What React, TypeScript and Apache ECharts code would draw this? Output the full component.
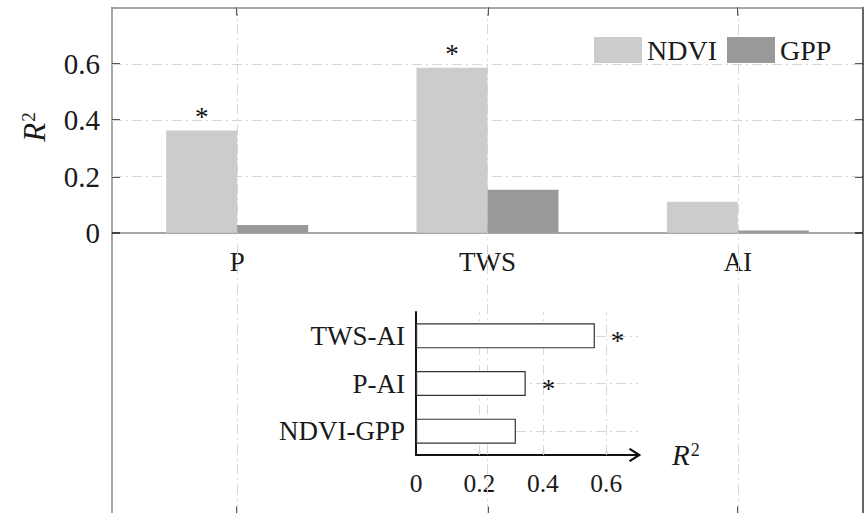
import React, { useEffect, useRef } from "react";
import * as echarts from "echarts";

const categories = ["P", "TWS", "AI"];
const ndviValues = [0.363, 0.586, 0.11];
const gppValues = [0.028, 0.153, 0.008];
const ndviSignificant = [true, true, false];

const yTicks = [0, 0.2, 0.4, 0.6];

const insetCategories = ["NDVI-GPP", "P-AI", "TWS-AI"];
const insetValues = [0.315, 0.346, 0.564];
const insetSignificant = [false, true, true];
const insetTickLabels = [0, 0.2, 0.4, 0.6];
const insetTicks = [0.2, 0.4, 0.6];

const FONT = "Liberation Serif";
const TEXT = "#1a1a1a";
const GRID_COLOR = "#d6d6d6";
const DASHDOT = [10, 4, 2, 4];
const CHEVRON = "path://M7,0 L14,11 L12.4,12.6 L7,4.2 L1.6,12.6 L0,11 Z";

export default function App() {
  const ref = useRef<HTMLDivElement>(null);

  useEffect(() => {
    if (!ref.current) return;
    const chart = echarts.init(ref.current, undefined, { renderer: "svg" });

    const fmt = (v: number) => String(Math.round(v * 10) / 10);
    const gridLineStyle = { color: GRID_COLOR, type: DASHDOT, width: 1 };

    const option: any = {
      animation: false,
      backgroundColor: "#ffffff",
      textStyle: { fontFamily: FONT },
      legend: {
        data: ["NDVI", "GPP"],
        left: 594,
        top: 36,
        itemWidth: 48,
        itemHeight: 26,
        itemGap: 10,
        icon: "rect",
        padding: 0,
        textStyle: { fontFamily: FONT, fontSize: 28, color: TEXT, padding: [0, 0, 0, 0] },
      },
      grid: [
        { left: 112, top: 7.5, right: 1, bottom: -1.5, containLabel: false, outerBoundsMode: "none" },
        { left: 416, top: 312, width: 222, height: 143, containLabel: false, outerBoundsMode: "none" },
        { left: 112, top: 7.5, right: 1, height: 225.1, containLabel: false, outerBoundsMode: "none" },
      ],
      xAxis: [
        {
          type: "category",
          gridIndex: 0,
          data: categories,
          position: "bottom",
          axisLine: { onZero: true, lineStyle: { color: "#8a8a8a", width: 1.5 } },
          axisTick: { show: false },
          axisLabel: { show: false },
          splitLine: { show: false },
        },
        {
          type: "category",
          gridIndex: 0,
          data: categories,
          position: "top",
          axisLine: { show: true, onZero: false, lineStyle: { color: "#8a8a8a", width: 1.5 } },
          axisTick: { show: true, inside: true, alignWithLabel: true, length: 8, lineStyle: { color: "#222", width: 1.5 } },
          axisLabel: { show: false },
          splitLine: { show: false },
        },
        {
          type: "category",
          gridIndex: 0,
          data: categories,
          position: "bottom",
          axisLine: { show: false, onZero: false },
          axisTick: { show: true, inside: true, alignWithLabel: true, length: 8, lineStyle: { color: "#222", width: 1.5 } },
          axisLabel: { show: false },
          splitLine: { show: false },
        },
        {
          type: "value",
          gridIndex: 1,
          min: 0,
          max: 0.7,
          position: "bottom",
          axisLine: {
            show: true,
            onZero: false,
            symbol: ["none", CHEVRON],
            symbolSize: [14, 13],
            symbolOffset: [0, -3],
            lineStyle: { color: "#111", width: 2 },
          },
          axisTick: { show: true, inside: true, length: 4, customValues: insetTicks, lineStyle: { color: "#222", width: 1.2 } },
          axisLabel: { customValues: insetTickLabels, fontFamily: FONT, fontSize: 25.5, color: TEXT, margin: 15, formatter: fmt },
          splitLine: { show: false },
          name: "{i|R}{s|2}",
          nameLocation: "end",
          nameGap: 34,
          nameTextStyle: {
            fontFamily: FONT,
            color: TEXT,
            rich: {
              i: { fontFamily: FONT, fontSize: 29, fontStyle: "italic", color: TEXT },
              s: { fontFamily: FONT, fontSize: 18, color: TEXT, verticalAlign: "top", padding: [0, 0, 0, 1] },
            },
          },
        },
        {
          type: "category",
          gridIndex: 2,
          data: categories,
          position: "bottom",
          axisLine: { show: false, onZero: false },
          axisTick: { show: false },
          axisLabel: { fontFamily: FONT, fontSize: 27, color: TEXT, margin: 16 },
          splitLine: { show: false },
        },
      ],
      yAxis: [
        {
          type: "value",
          gridIndex: 0,
          min: -1,
          max: 0.8,
          position: "left",
          axisLine: { show: true, onZero: false, lineStyle: { color: "#8a8a8a", width: 1.5 } },
          axisTick: { show: true, inside: true, length: 8, customValues: yTicks, lineStyle: { color: "#222", width: 1.5 } },
          axisLabel: { customValues: yTicks, fontFamily: FONT, fontSize: 29, color: TEXT, margin: 12, formatter: fmt },
          splitLine: { show: false },
        },
        {
          type: "value",
          gridIndex: 0,
          min: -1,
          max: 0.8,
          position: "right",
          axisLine: { show: true, onZero: false, lineStyle: { color: "#333", width: 1.5 } },
          axisTick: { show: true, inside: true, length: 8, customValues: yTicks, lineStyle: { color: "#222", width: 1.5 } },
          axisLabel: { show: false },
          splitLine: { show: false },
        },
        {
          type: "category",
          gridIndex: 1,
          data: insetCategories,
          position: "left",
          axisLine: { show: true, onZero: false, lineStyle: { color: "#111", width: 2 } },
          axisTick: { show: true, inside: true, alignWithLabel: true, length: 3, lineStyle: { color: "#222", width: 1.2 } },
          axisLabel: { fontFamily: FONT, fontSize: 27, color: TEXT, margin: 11 },
          splitLine: { show: false },
        },
        {
          type: "value",
          gridIndex: 2,
          min: 0,
          max: 0.8,
          show: false,
        },
      ],
      series: [
        {
          name: "gridlines",
          type: "line",
          xAxisIndex: 0,
          yAxisIndex: 0,
          data: [],
          showSymbol: false,
          silent: true,
          markLine: {
            silent: true,
            z: 1,
            symbol: ["none", "none"],
            label: { show: false },
            lineStyle: gridLineStyle,
            data: [
              ...categories.map((c) => ({ xAxis: c })),
              ...yTicks.filter((v) => v > 0).map((v) => ({ yAxis: v })),
            ],
          },
        },
        {
          name: "NDVI",
          type: "bar",
          xAxisIndex: 0,
          yAxisIndex: 0,
          data: ndviValues,
          barWidth: 71,
          barGap: "0%",
          itemStyle: { color: "#cccccc" },
          label: {
            show: true,
            position: "top",
            distance: 0,
            fontFamily: FONT,
            fontSize: 27,
            color: "#111111",
            formatter: (p: any) => (ndviSignificant[p.dataIndex] ? "*" : ""),
          },
        },
        {
          name: "GPP",
          type: "bar",
          xAxisIndex: 0,
          yAxisIndex: 0,
          data: gppValues,
          barWidth: 71,
          barGap: "0%",
          itemStyle: { color: "#999999" },
        },
        {
          name: "R2",
          type: "bar",
          xAxisIndex: 3,
          yAxisIndex: 2,
          data: insetValues,
          barWidth: 25,
          itemStyle: { color: "#ffffff", borderColor: "#333", borderWidth: 1.2 },
          label: {
            show: true,
            position: "right",
            distance: 16,
            offset: [0, 5],
            fontFamily: FONT,
            fontSize: 27,
            color: "#111111",
            formatter: (p: any) => (insetSignificant[p.dataIndex] ? "*" : ""),
          },
          markLine: {
            silent: true,
            z: 1,
            symbol: ["none", "none"],
            label: { show: false },
            lineStyle: gridLineStyle,
            data: [
              ...insetTicks.map((v) => ({ xAxis: v })),
              ...insetCategories.map((c) => ({ yAxis: c })),
            ],
          },
        },
      ],
      graphic: [
        {
          type: "text",
          x: 34,
          y: 127,
          rotation: Math.PI / 2,
          style: {
            text: "{i|R}{s|2}",
            align: "center",
            verticalAlign: "middle",
            fill: TEXT,
            font: `30px ${FONT}`,
            rich: {
              i: { fontFamily: FONT, fontSize: 31, fontStyle: "italic", fill: TEXT },
              s: { fontFamily: FONT, fontSize: 19, fill: TEXT, verticalAlign: "top", padding: [0, 0, 0, 1] },
            },
          },
        },
      ],
    };

    chart.setOption(option);
    return () => chart.dispose();
  }, []);

  return (
    <div
      ref={ref}
      style={{ position: "absolute", left: 0, top: 0, width: 864, height: 513, background: "#fff" }}
    />
  );
}
